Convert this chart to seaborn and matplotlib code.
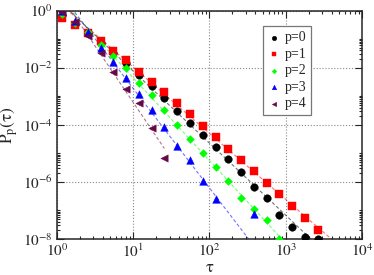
import numpy as np
import pandas as pd
import matplotlib
matplotlib.use("Agg")
import matplotlib.pyplot as plt
import seaborn as sns
from matplotlib.ticker import FixedLocator, FuncFormatter, LogLocator, NullFormatter

# binned waiting times (shared by all series)
tau = [1.17, 1.73, 2.54, 3.73, 5.49, 8.07, 11.9, 17.4, 25.6, 37.7, 55.4,
       81.5, 120, 176, 259, 381, 560, 823, 1210, 1780, 2620]

p0 = [0.695, 0.350, 0.163, 0.0711, 0.0317, 0.0142, 0.00552, 0.00227, 8.43e-4,
      3.15e-4, 1.18e-4, 4.27e-5, 1.60e-5, 6.17e-6, 2.27e-6, 6.77e-7, 2.83e-7,
      6.81e-8, 2.56e-8, 1.20e-8, 1.04e-8]
p1 = [0.533, 0.311, 0.163, 0.0855, 0.0391, 0.0185, 0.00731, 0.00321, 0.00135,
      5.63e-4, 2.34e-4, 9.18e-5, 3.72e-5, 1.47e-5, 5.82e-6, 2.31e-6, 8.91e-7,
      3.82e-7, 1.43e-7, 5.56e-8, 2.06e-8]
p2 = [0.754, 0.380, 0.172, 0.0619, 0.0261, 0.00946, 0.00301, 0.00110, 3.28e-4,
      1.00e-4, 3.17e-5, 1.03e-5, 3.40e-6, 1.07e-6, 2.79e-7, 1.08e-7, 4.62e-8,
      1.02e-8]
p3 = [0.984, 0.429, 0.170, 0.0498, 0.0154, 0.00444, 0.00119, 3.28e-4, 8.34e-5,
      1.76e-5, 5.82e-6, 1.05e-6, 2.47e-7, np.nan, np.nan, 7.50e-8]
p4 = [0.886, 0.405, 0.131, 0.0333, 0.00720, 0.00174, 5.63e-4, 7.50e-5, 7.13e-6]

labels = ["p=0", "p=1", "p=2", "p=3", "p=4"]
series = [p0, p1, p2, p3, p4]
colors = ["#000000", "#ff0000", "#00ff00", "#0000ff", "#670748"]
markers = ["o", "s", "D", "^", "<"]
sizes = [30, 26, 16, 30, 28]
# tau range used for the power-law fits
fit_lo = [2, 2, 2, 2, 1.5]
fit_hi = [1000, 3000, 900, 150, 30]

sns.set_style("ticks")
plt.rcParams["font.family"] = ["Liberation Serif", "DejaVu Serif"]
plt.rcParams["mathtext.fontset"] = "stix"

fig = plt.figure(figsize=(3.74, 2.75), dpi=100)
ax = fig.add_axes([0.1524, 0.1309, 0.8155, 0.8309])

for lab, vals, col, mk, sz, lo, hi in zip(labels, series, colors, markers, sizes, fit_lo, fit_hi):
    t = np.array(tau[:len(vals)])
    v = np.array(vals, dtype=float)
    df = pd.DataFrame({"tau": t, "P": v}).dropna()

    # dashed power-law fit
    m = (df.tau >= lo) & (df.tau <= hi)
    slope, icpt = np.polyfit(np.log10(df.tau[m]), np.log10(df.P[m]), 1)
    t_end = 1e4 if lab != "p=4" else df.tau.max()
    tt = np.logspace(np.log10(df.tau.min()), np.log10(t_end), 50)
    ax.plot(tt, 10 ** (icpt + slope * np.log10(tt)), ls=(0, (3, 2)),
            lw=0.8, color=col, alpha=0.55, zorder=2)

    sns.scatterplot(data=df, x="tau", y="P", marker=mk, color=col, s=sz,
                    edgecolor=col, linewidth=0.3, label=lab, ax=ax, zorder=3)

ax.set_xscale("log")
ax.set_yscale("log")
ax.set_xlim(1, 1e4)
ax.set_ylim(1e-8, 1)

ax.xaxis.set_major_locator(LogLocator(base=10, numticks=10))
ax.xaxis.set_minor_locator(LogLocator(base=10, subs=np.arange(2, 10), numticks=20))
ax.xaxis.set_minor_formatter(NullFormatter())
ax.xaxis.set_major_formatter(FuncFormatter(lambda v, _: r"$10^{%d}$" % round(np.log10(v))))

ydec = [0, -2, -4, -6, -8]
ax.yaxis.set_major_locator(FixedLocator([10.0 ** d for d in ydec]))
yminor = []
for d in [-2, -4, -6, -8]:
    yminor += [k * 10.0 ** d for k in range(2, 10)] + [10.0 ** (d + 1)]
ax.yaxis.set_minor_locator(FixedLocator(yminor))
ax.yaxis.set_minor_formatter(NullFormatter())
ax.yaxis.set_major_formatter(FuncFormatter(lambda v, _: r"$10^{%d}$" % round(np.log10(v))))

ax.tick_params(which="both", direction="in", top=True, right=True, width=0.8,
               labelsize=11)
ax.tick_params(axis="x", pad=2.5)
ax.tick_params(axis="y", pad=3)
ax.tick_params(which="major", length=5)
ax.tick_params(which="minor", length=2.5)
for s in ax.spines.values():
    s.set_linewidth(1.1)
ax.grid(True, which="major", ls=":", lw=0.8, color="#888888")

ax.set_xlabel(r"$\mathrm{\tau}$", fontsize=12)
ax.xaxis.set_label_coords(0.5, -0.092)
ax.set_ylabel(r"$\mathrm{P_p(\tau)}$", fontsize=12.5)
ax.yaxis.set_label_coords(-0.12, 0.5)

leg = ax.legend(loc="upper left", bbox_to_anchor=(0.675, 0.93), fontsize=10,
                frameon=True, fancybox=False, framealpha=1, edgecolor="#777777",
                handletextpad=0.3, labelspacing=0.25, borderpad=0.35,
                borderaxespad=0, handlelength=0.9, markerscale=0.6)
leg.get_frame().set_linewidth(0.9)

fig.savefig("out.png", dpi=100)
